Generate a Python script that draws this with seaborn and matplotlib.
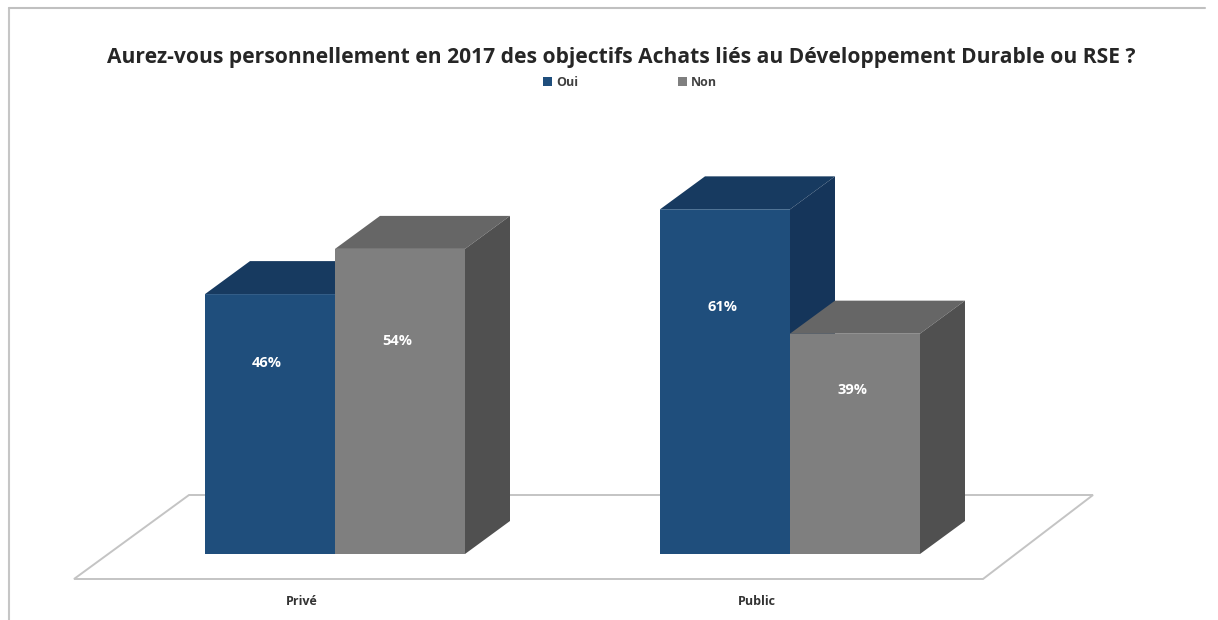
import matplotlib
matplotlib.use("Agg")
import matplotlib.pyplot as plt
import pandas as pd
import seaborn as sns
from matplotlib.lines import Line2D
from matplotlib.patches import Polygon

#==============================================================
# 1. Data
#==============================================================

title = "Aurez-vous personnellement en 2017 des objectifs Achats liés au Développement Durable ou RSE ?"
sectors = ["Privé", "Public"]
answers = ["Oui", "Non"]
oui_values = [46, 61]
non_values = [54, 39]

front_colors = {"Oui": "#1f4e7c", "Non": "#7f7f7f"}
top_colors = {"Oui": "#173a60", "Non": "#666666"}
side_colors = {"Oui": "#15355a", "Non": "#505050"}

df = pd.DataFrame({
    "sector": sectors * 2,
    "answer": ["Oui"] * 2 + ["Non"] * 2,
    "value": oui_values + non_values,
})

#==============================================================
# 2. Layout (pixels of the 1218x620 picture)
#==============================================================

W, H = 1218, 620
CAT_PX = 455       # distance between the two groups
PCT_PX = 5.65      # height of 1%
BASE_PX = 554      # y of the bar bottoms
FIRST_PX = 335     # x of the Privé group centre
AX_TOP, AX_BOTTOM = 100, 590

depth_x = 45 / CAT_PX
depth_y = 33 / PCT_PX

# height of the value labels inside the bars, same order as the bars
label_heights = [33.8, 37.7, 43.7, 29.0]

#==============================================================
# 3. Bars
#==============================================================

sns.set_theme(style="white")
plt.rcParams["font.family"] = ["Open Sans", "DejaVu Sans"]

fig = plt.figure(figsize=(W / 100, H / 100), dpi=100)
ax = fig.add_axes([0, 1 - AX_BOTTOM / H, 1, (AX_BOTTOM - AX_TOP) / H])

sns.barplot(data=df, x="sector", y="value", hue="answer", order=sectors,
            hue_order=answers, palette=front_colors, width=260 / CAT_PX,
            gap=0, linewidth=0, saturation=1, ax=ax)

ax.set_xlim(-FIRST_PX / CAT_PX, (W - FIRST_PX) / CAT_PX)
ax.set_ylim((BASE_PX - AX_BOTTOM) / PCT_PX, (BASE_PX - AX_TOP) / PCT_PX)

bars = sorted([p for p in ax.patches if p.get_height() > 0], key=lambda p: p.get_x())
bar_answers = ["Oui", "Non", "Oui", "Non"]

# top and side faces come from the bars themselves
for i, (bar, answer) in enumerate(zip(bars, bar_answers)):
    x0, x1 = bar.get_x(), bar.get_x() + bar.get_width()
    h = bar.get_height()
    z = 3 + i
    top = [(x0, h), (x1, h), (x1 + depth_x, h + depth_y), (x0 + depth_x, h + depth_y)]
    side = [(x1, 0), (x1 + depth_x, depth_y), (x1 + depth_x, h + depth_y), (x1, h)]
    ax.add_patch(Polygon(top, facecolor=top_colors[answer], edgecolor="none", zorder=z))
    ax.add_patch(Polygon(side, facecolor=side_colors[answer], edgecolor="none", zorder=z))
    bar.set_zorder(z + 0.5)
    bar.set_snap(False)
    ax.text((x0 + x1) / 2 - 3 / CAT_PX, label_heights[i], f"{h:.0f}%", color="white",
            ha="center", va="center", fontsize=10.5, fontweight="bold", zorder=10)

# floor under the bars
floor_left = bars[0].get_x() - 131 / CAT_PX
floor_right = bars[-1].get_x() + bars[-1].get_width() + 63 / CAT_PX
floor_front = -25 / PCT_PX
floor_back = 59 / PCT_PX
floor_dx = 115 / CAT_PX
floor = [(floor_left, floor_front), (floor_right, floor_front),
         (floor_right + 110 / CAT_PX, floor_back), (floor_left + floor_dx, floor_back)]
ax.add_patch(Polygon(floor, closed=True, fill=False, edgecolor="#c4c4c4",
                     linewidth=1.4, zorder=1))

#==============================================================
# 4. Text, ticks, legend
#==============================================================

ax.set_xlabel("")
ax.set_ylabel("")
ax.set_yticks([])
ax.set_xticks([i - 33 / CAT_PX for i in range(len(sectors))], sectors)
ax.tick_params(axis="x", length=0, pad=3.5, labelsize=9, colors="#333333")
for lab in ax.get_xticklabels():
    lab.set_fontweight("bold")
ax.patch.set_visible(False)
sns.despine(ax=ax, left=True, bottom=True)

fig.text(621 / W, 1 - 57 / H, title, ha="center", va="center", fontsize=15.1,
         fontweight="bold", color="#262626")

sns.move_legend(ax, "center", bbox_to_anchor=(630 / W, 1 - 82 / H),
                bbox_transform=fig.transFigure, ncol=2, title=None, frameon=False,
                handlelength=0.7, handleheight=0.7, handletextpad=0.35,
                columnspacing=8.0, fontsize=9, labelcolor="#404040")
for t in ax.get_legend().get_texts():
    t.set_fontweight("bold")

# screenshot border
fig.add_artist(Line2D([9 / W, 9 / W], [0, 1 - 8 / H], color="#c6c6c6", linewidth=1.5))
fig.add_artist(Line2D([9 / W, 1205 / W], [1 - 8 / H, 1 - 8 / H], color="#c0c0c0", linewidth=1.5))

fig.savefig("out.png", dpi=100)
